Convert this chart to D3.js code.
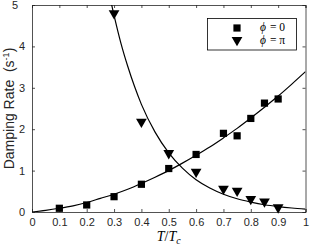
<!DOCTYPE html>
<html><head><meta charset="utf-8">
<script src="https://cdn.jsdelivr.net/npm/d3@7"></script>
<style>html,body{margin:0;padding:0;background:#fff;}svg{display:block;}</style>
</head><body><svg id="c" width="313" height="247"></svg>
<script>
// Data
const phi0X = [0.1, 0.2, 0.3, 0.4, 0.5, 0.6, 0.7, 0.75, 0.8, 0.85, 0.9];
const phi0Y = [0.09, 0.17, 0.37, 0.67, 1.05, 1.39, 1.90, 1.84, 2.26, 2.63, 2.73];
const phiPiX = [0.3, 0.4, 0.5, 0.6, 0.7, 0.75, 0.8, 0.85, 0.9];
const phiPiY = [4.80, 2.18, 1.42, 0.97, 0.56, 0.51, 0.31, 0.25, 0.11];
// Fitted curves
const fit0X = [0, 0.05, 0.1, 0.15, 0.2, 0.25, 0.3, 0.35, 0.4, 0.45, 0.5, 0.55, 0.6, 0.65, 0.7, 0.75, 0.8, 0.85, 0.9, 0.95, 1.0];
const fit0Y = [0, 0.04, 0.09, 0.15, 0.23, 0.33, 0.43, 0.55, 0.69, 0.84, 1.00, 1.18, 1.37, 1.57, 1.79, 2.02, 2.27, 2.53, 2.80, 3.09, 3.39];
const fitPiX = [0.28, 0.29, 0.30, 0.325, 0.35, 0.375, 0.40, 0.45, 0.50, 0.55, 0.60, 0.65, 0.70, 0.75, 0.80, 0.85, 0.90, 0.95, 1.0];
const fitPiY = [5.35, 5.04, 4.75, 4.08, 3.52, 3.03, 2.60, 1.93, 1.43, 1.06, 0.78, 0.58, 0.43, 0.32, 0.24, 0.175, 0.13, 0.096, 0.071];
const xTicks = [0, 0.1, 0.2, 0.3, 0.4, 0.5, 0.6, 0.7, 0.8, 0.9, 1];
const yTicks = [0, 1, 2, 3, 4, 5];
const legendLabels = ["\u03d5", "\u03d5"];
const legendValues = ["= 0", "= \u03c0"];

const svg = d3.select("#c");
const L = 32, R = 305.5, T = 5, B = 212;
const x = d3.scaleLinear().domain([0, 1]).range([L, R]);
const y = d3.scaleLinear().domain([0, 5]).range([B, T]);

svg.append("defs").append("clipPath").attr("id", "clip")
  .append("rect").attr("x", L).attr("y", T).attr("width", R - L).attr("height", B - T);

const tickColor = "#262626";
const fontSans = "'Liberation Sans', Arial, sans-serif";
const fontSerif = "'Liberation Serif', 'Times New Roman', serif";

// Axes with inward ticks
const xAxisB = d3.axisBottom(x).tickValues(xTicks).tickSize(-3).tickPadding(6)
  .tickFormat(d => d === 0 || d === 1 ? d3.format("d")(d) : d3.format(".1f")(d));
const gx = svg.append("g").attr("transform", `translate(0,${B})`).call(xAxisB);
const xAxisT = d3.axisTop(x).tickValues(xTicks).tickSize(-3).tickFormat("");
const gxt = svg.append("g").attr("transform", `translate(0,${T})`).call(xAxisT);
const yAxisL = d3.axisLeft(y).tickValues(yTicks).tickSize(-3).tickPadding(7).tickFormat(d3.format("d"));
const gy = svg.append("g").attr("transform", `translate(${L},0)`).call(yAxisL);
const yAxisR = d3.axisRight(y).tickValues(yTicks).tickSize(-3).tickFormat("");
const gyr = svg.append("g").attr("transform", `translate(${R},0)`).call(yAxisR);

[gx, gxt, gy, gyr].forEach(g => {
  g.select(".domain").attr("stroke", tickColor).attr("stroke-width", 0.8);
  g.selectAll(".tick line").attr("stroke", tickColor).attr("stroke-width", 0.8);
  g.selectAll("text").attr("font-family", fontSans).attr("font-size", 11).attr("fill", tickColor);
});
gy.selectAll(".tick").filter(d => d === 5).select("text").attr("dx", -7);

const g = svg.append("g").attr("clip-path", "url(#clip)");
const line = d3.line().x(d => x(d[0])).y(d => y(d[1])).curve(d3.curveMonotoneX);

g.append("path").datum(d3.zip(fit0X, fit0Y)).attr("d", line)
  .attr("fill", "none").attr("stroke", "#000").attr("stroke-width", 1.2);
g.append("path").datum(d3.zip(fitPiX, fitPiY)).attr("d", line)
  .attr("fill", "none").attr("stroke", "#000").attr("stroke-width", 1.2);

const sq = d3.symbol().type(d3.symbolSquare).size(52);
const tri = d3.symbol().type(d3.symbolTriangle).size(50);

svg.append("g").selectAll("path").data(d3.zip(phi0X, phi0Y)).join("path")
  .attr("d", sq).attr("transform", d => `translate(${x(d[0])},${y(d[1])})`).attr("fill", "#000");
svg.append("g").selectAll("path").data(d3.zip(phiPiX, phiPiY)).join("path")
  .attr("d", tri).attr("transform", d => `translate(${x(d[0])},${y(d[1])}) rotate(180)`).attr("fill", "#000");

// Legend
const lg = svg.append("g");
lg.append("rect").attr("x", 207.5).attr("y", 18.5).attr("width", 89).attr("height", 31.5)
  .attr("fill", "#fff").attr("stroke", "#000").attr("stroke-width", 0.8);
lg.append("path").attr("d", sq).attr("transform", "translate(237,28)").attr("fill", "#000");
lg.append("path").attr("d", tri).attr("transform", "translate(237,40) rotate(180)").attr("fill", "#000");
legendLabels.forEach((lab, i) => {
  lg.append("text").attr("x", 260).attr("y", 31 + i * 12.6)
    .attr("font-family", fontSerif).attr("font-size", 11.5).attr("font-style", "italic")
    .attr("fill", "#000").text(lab);
  lg.append("text").attr("x", 270).attr("y", 31 + i * 12.6)
    .attr("font-family", fontSerif).attr("font-size", 11.5)
    .attr("fill", "#000").text(legendValues[i]);
});

// Axis labels
svg.append("text").attr("transform", `translate(14,${(T + B) / 2}) rotate(-90)`)
  .attr("text-anchor", "middle").attr("font-family", fontSans).attr("font-size", 14)
  .attr("fill", tickColor).attr("xml:space", "preserve")
  .html("Damping Rate  (s<tspan dy='-5' font-size='9'>-1</tspan><tspan dy='5'>)</tspan>");

const xl = svg.append("text").attr("x", x(0.5)).attr("y", 241).attr("text-anchor", "middle")
  .attr("font-family", fontSerif).attr("font-size", 14).attr("fill", "#000");
xl.append("tspan").attr("font-style", "italic").text("T");
xl.append("tspan").text("/");
xl.append("tspan").attr("font-style", "italic").text("T");
xl.append("tspan").attr("font-style", "italic").attr("font-size", 10).attr("dy", 3).text("c");
</script></body></html>
